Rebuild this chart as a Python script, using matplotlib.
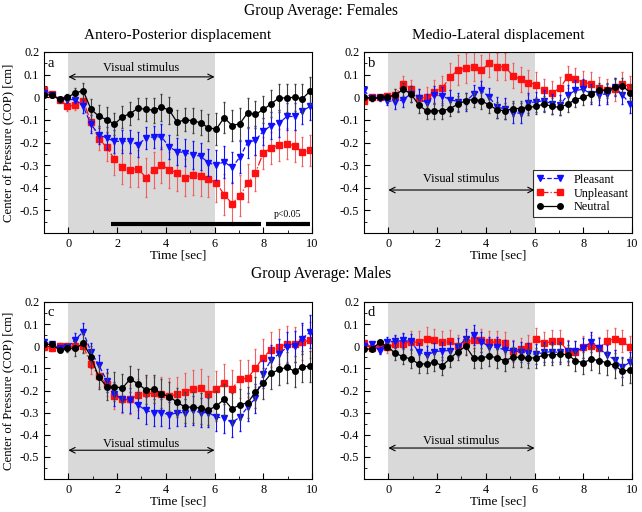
import numpy as np
import matplotlib
matplotlib.use('Agg')
import matplotlib.pyplot as plt
from matplotlib.lines import Line2D
from matplotlib.ticker import MultipleLocator

plt.rcParams['font.family'] = ['Liberation Serif', 'DejaVu Serif']
plt.rcParams['axes.unicode_minus'] = False

# time axis (sec), 35 samples
time = np.linspace(-1.0, 9.93, 35)

# ---- Females, antero-posterior (a) ----
a_pleasant = [0.02, 0.01, -0.01, -0.01, -0.01, -0.04, -0.12, -0.165, -0.18, -0.195, -0.195, -0.195,
              -0.21, -0.18, -0.175, -0.175, -0.22, -0.24, -0.245, -0.255, -0.26, -0.29, -0.30, -0.285,
              -0.31, -0.265, -0.20, -0.19, -0.15, -0.125, -0.115, -0.085, -0.085, -0.06, -0.04]
a_pleasant_err = [0.01, 0.01, 0.01, 0.01, 0.015, 0.03, 0.04, 0.04, 0.05, 0.05, 0.05, 0.05, 0.055,
                  0.05, 0.05, 0.055, 0.055, 0.06, 0.06, 0.06, 0.06, 0.06, 0.065, 0.07, 0.07, 0.07,
                  0.07, 0.065, 0.06, 0.06, 0.06, 0.06, 0.06, 0.06, 0.06]
a_unpleasant = [0.03, 0.015, -0.01, -0.04, -0.035, -0.015, -0.11, -0.185, -0.22, -0.275, -0.31, -0.32,
                -0.315, -0.355, -0.32, -0.30, -0.32, -0.335, -0.355, -0.345, -0.35, -0.36, -0.38, -0.43,
                -0.47, -0.435, -0.38, -0.335, -0.245, -0.225, -0.21, -0.205, -0.215, -0.24, -0.235]
a_unpleasant_err = [0.02, 0.01, 0.01, 0.02, 0.02, 0.025, 0.04, 0.05, 0.06, 0.07, 0.075, 0.075, 0.08,
                    0.085, 0.08, 0.08, 0.08, 0.08, 0.08, 0.085, 0.085, 0.08, 0.085, 0.09, 0.095, 0.09,
                    0.085, 0.08, 0.07, 0.07, 0.07, 0.07, 0.07, 0.065, 0.07]
a_neutral = [0.012, 0.009, -0.009, 0.0, 0.019, 0.029, -0.053, -0.084, -0.099, -0.119, -0.087, -0.072,
             -0.049, -0.053, -0.057, -0.044, -0.057, -0.111, -0.099, -0.104, -0.113, -0.135, -0.141,
             -0.09, -0.125, -0.117, -0.069, -0.076, -0.054, -0.029, -0.003, -0.003, 0.0, -0.006, 0.028]
a_neutral_err = [0.01, 0.01, 0.01, 0.015, 0.02, 0.035, 0.045, 0.05, 0.055, 0.05, 0.05, 0.05, 0.045,
                 0.05, 0.055, 0.06, 0.06, 0.055, 0.05, 0.055, 0.055, 0.06, 0.07, 0.07, 0.07, 0.07,
                 0.065, 0.06, 0.06, 0.06, 0.06, 0.06, 0.06, 0.065, 0.06]

# ---- Females, medio-lateral (b) ----
b_pleasant = [0.03, -0.005, -0.005, -0.015, -0.02, -0.01, 0.015, -0.005, -0.025, 0.01, 0.005, -0.01,
              -0.02, -0.02, 0.015, 0.03, 0.0, -0.045, -0.05, -0.07, -0.07, -0.025, -0.02, -0.015,
              -0.03, -0.035, 0.01, 0.03, 0.035, 0.015, 0.01, 0.015, 0.045, 0.01, -0.03]
b_pleasant_err = [0.01, 0.01, 0.01, 0.02, 0.03, 0.035, 0.035, 0.04, 0.04, 0.04, 0.04, 0.04, 0.04,
                  0.04, 0.04, 0.04, 0.04, 0.045, 0.045, 0.045, 0.045, 0.045, 0.045, 0.045, 0.045,
                  0.045, 0.045, 0.045, 0.045, 0.045, 0.045, 0.045, 0.04, 0.04, 0.04]
b_unpleasant = [-0.015, 0.0, 0.0, 0.005, 0.01, 0.06, 0.035, -0.005, 0.0, 0.025, 0.04, 0.09, 0.12,
                0.13, 0.135, 0.12, 0.15, 0.135, 0.135, 0.095, 0.08, 0.065, 0.055, 0.03, 0.02, 0.04,
                0.09, 0.08, 0.065, 0.06, 0.04, 0.03, 0.035, 0.06, 0.045]
b_unpleasant_err = [0.01, 0.01, 0.01, 0.015, 0.025, 0.035, 0.04, 0.04, 0.045, 0.05, 0.055, 0.06, 0.065,
                    0.065, 0.065, 0.065, 0.06, 0.06, 0.06, 0.055, 0.055, 0.055, 0.055, 0.05, 0.05,
                    0.05, 0.05, 0.05, 0.05, 0.05, 0.05, 0.05, 0.05, 0.05, 0.05]
b_neutral = [0.0, -0.005, 0.0, 0.0, 0.01, 0.035, 0.015, -0.035, -0.06, -0.06, -0.06, -0.05, -0.03,
             -0.015, -0.01, -0.015, -0.035, -0.055, -0.06, -0.05, -0.05, -0.045, -0.04, -0.03,
             -0.04, -0.045, -0.03, -0.01, 0.0, 0.015, 0.03, 0.03, 0.045, 0.05, 0.02]
b_neutral_err = [0.01, 0.01, 0.01, 0.015, 0.025, 0.03, 0.035, 0.035, 0.035, 0.035, 0.035, 0.035,
                 0.035, 0.035, 0.035, 0.035, 0.035, 0.035, 0.035, 0.035, 0.035, 0.035, 0.035, 0.035,
                 0.035, 0.035, 0.035, 0.035, 0.035, 0.035, 0.035, 0.035, 0.035, 0.035, 0.035]

# ---- Males, antero-posterior (c) ----
c_pleasant = [0.02, 0.01, -0.01, -0.005, 0.03, 0.065, -0.025, -0.085, -0.155, -0.215, -0.24, -0.245,
              -0.265, -0.29, -0.30, -0.30, -0.31, -0.30, -0.30, -0.29, -0.30, -0.30, -0.32, -0.325,
              -0.345, -0.32, -0.275, -0.235, -0.125, -0.06, -0.035, -0.005, 0.0, 0.035, 0.065]
c_pleasant_err = [0.01, 0.01, 0.01, 0.015, 0.03, 0.04, 0.04, 0.045, 0.05, 0.055, 0.055, 0.055, 0.06,
                  0.06, 0.06, 0.06, 0.06, 0.06, 0.06, 0.065, 0.065, 0.065, 0.065, 0.065, 0.065,
                  0.065, 0.065, 0.065, 0.065, 0.065, 0.07, 0.07, 0.07, 0.07, 0.075]
c_unpleasant = [-0.005, -0.01, 0.003, 0.0, 0.0, 0.0, -0.08, -0.133, -0.17, -0.225, -0.24, -0.24,
                -0.22, -0.213, -0.213, -0.218, -0.225, -0.218, -0.205, -0.193, -0.19, -0.218, -0.195,
                -0.167, -0.193, -0.148, -0.145, -0.098, -0.051, -0.015, -0.002, 0.01, 0.008, 0.018, 0.028]
c_unpleasant_err = [0.01, 0.01, 0.01, 0.015, 0.02, 0.025, 0.045, 0.05, 0.055, 0.06, 0.06, 0.065, 0.07,
                    0.075, 0.075, 0.08, 0.08, 0.08, 0.085, 0.085, 0.085, 0.085, 0.085, 0.085, 0.085,
                    0.085, 0.085, 0.085, 0.085, 0.08, 0.08, 0.08, 0.08, 0.08, 0.08]
c_neutral = [0.01, 0.008, -0.017, -0.008, -0.01, 0.013, -0.047, -0.14, -0.182, -0.182, -0.19, -0.148,
             -0.17, -0.197, -0.193, -0.215, -0.228, -0.253, -0.275, -0.275, -0.28, -0.288, -0.27,
             -0.24, -0.283, -0.265, -0.255, -0.208, -0.167, -0.123, -0.105, -0.095, -0.113, -0.092, -0.09]
c_neutral_err = [0.01, 0.01, 0.01, 0.02, 0.035, 0.045, 0.05, 0.055, 0.06, 0.065, 0.065, 0.06, 0.065,
                 0.065, 0.065, 0.065, 0.065, 0.065, 0.07, 0.07, 0.07, 0.07, 0.07, 0.07, 0.07, 0.07,
                 0.07, 0.07, 0.07, 0.07, 0.07, 0.07, 0.07, 0.07, 0.07]

# ---- Males, medio-lateral (d) ----
d_pleasant = [0.003, 0.01, -0.02, 0.02, 0.022, 0.026, 0.022, -0.027, -0.04, -0.025, -0.02, -0.02,
              -0.002, 0.033, 0.05, 0.02, -0.002, -0.005, -0.017, -0.02, -0.025, -0.032, -0.037,
              -0.027, -0.025, -0.028, -0.02, -0.02, -0.008, 0.02, -0.008, -0.04, -0.06, -0.095, -0.07]
d_pleasant_err = [0.01, 0.01, 0.015, 0.02, 0.03, 0.035, 0.035, 0.04, 0.04, 0.04, 0.04, 0.04, 0.04,
                  0.045, 0.045, 0.045, 0.045, 0.045, 0.045, 0.045, 0.045, 0.045, 0.045, 0.045,
                  0.045, 0.045, 0.045, 0.045, 0.045, 0.045, 0.045, 0.045, 0.045, 0.045, 0.045]
d_unpleasant = [0.015, -0.008, 0.008, -0.005, 0.01, 0.01, 0.02, 0.018, 0.035, 0.028, 0.017, 0.022,
                0.002, 0.017, 0.028, 0.026, 0.02, 0.017, 0.013, -0.02, -0.013, 0.002, 0.032, 0.013,
                0.022, 0.022, -0.02, -0.028, -0.005, 0.003, -0.01, 0.025, 0.033, 0.022, -0.005]
d_unpleasant_err = [0.015, 0.015, 0.02, 0.025, 0.035, 0.045, 0.05, 0.05, 0.05, 0.05, 0.05, 0.05,
                    0.05, 0.05, 0.05, 0.05, 0.05, 0.05, 0.05, 0.05, 0.05, 0.05, 0.05, 0.05, 0.05,
                    0.05, 0.05, 0.05, 0.05, 0.05, 0.05, 0.05, 0.05, 0.05, 0.05]
d_neutral = [-0.012, -0.013, 0.017, -0.002, -0.032, -0.047, -0.058, -0.08, -0.08, -0.072, -0.088,
             -0.055, -0.024, 0.0, -0.053, -0.053, -0.044, -0.053, -0.065, -0.05, -0.05, -0.053,
             -0.053, -0.038, -0.04, -0.036, -0.038, -0.065, -0.075, -0.058, -0.065, -0.075, -0.087,
             -0.113, -0.107]
d_neutral_err = [0.01, 0.01, 0.01, 0.015, 0.03, 0.035, 0.04, 0.04, 0.04, 0.04, 0.04, 0.04, 0.04,
                 0.04, 0.045, 0.045, 0.045, 0.045, 0.045, 0.045, 0.045, 0.045, 0.045, 0.045, 0.045,
                 0.045, 0.045, 0.045, 0.05, 0.05, 0.055, 0.055, 0.055, 0.06, 0.06]

# significant intervals in panel a (sec)
sig_intervals = [(1.75, 7.9), (8.1, 9.9)]

panels = {
    'a': (a_pleasant, a_pleasant_err, a_unpleasant, a_unpleasant_err, a_neutral, a_neutral_err),
    'b': (b_pleasant, b_pleasant_err, b_unpleasant, b_unpleasant_err, b_neutral, b_neutral_err),
    'c': (c_pleasant, c_pleasant_err, c_unpleasant, c_unpleasant_err, c_neutral, c_neutral_err),
    'd': (d_pleasant, d_pleasant_err, d_unpleasant, d_unpleasant_err, d_neutral, d_neutral_err),
}

fig = plt.figure(figsize=(6.42, 5.12), dpi=100)
W, H = 642, 512
boxes = {'a': (44, 52, 312, 233), 'b': (364, 52, 632, 233),
         'c': (44, 302, 312, 479), 'd': (364, 302, 632, 479)}

blue = '#1010ff'
red = '#ff1010'
red_err = '#f06060'

stim_y = {'a': (0.13, 0.09), 'b': (-0.36, -0.41), 'c': (-0.44, -0.47), 'd': (-0.43, -0.46)}

for key, (x0, y0, x1, y1) in boxes.items():
    ax = fig.add_axes([x0 / W, 1 - y1 / H, (x1 - x0) / W, (y1 - y0) / H])
    pl, ple, un, une, ne, nee = panels[key]
    ax.axvspan(0, 6, color='#d9d9d9', lw=0, zorder=0)

    ax.errorbar(time, un, yerr=une, color=red, ecolor=red_err, ls='-.', lw=0.9, marker='s',
                ms=4, elinewidth=0.8, capsize=1, zorder=2)
    ax.errorbar(time, pl, yerr=ple, color=blue, ecolor=blue, ls='--', lw=0.9, marker='v',
                ms=4.5, elinewidth=0.8, capsize=1, zorder=3)
    ax.errorbar(time, ne, yerr=nee, color='black', ecolor='#404040', ls='-', lw=0.9, marker='o',
                ms=4, elinewidth=0.8, capsize=1, zorder=4)

    ty, ay = stim_y[key]
    ax.text(3, ty, 'Visual stimulus', ha='center', va='center', fontsize=8.8)
    ax.annotate('', xy=(0, ay), xytext=(6, ay),
                arrowprops=dict(arrowstyle='<->', lw=0.8, color='black', shrinkA=0, shrinkB=0))

    ax.text(-0.85, 0.18, key, ha='left', va='top', fontsize=10.5)

    ax.set_xlim(-1, 10)
    ax.set_ylim(-0.6, 0.2)
    ax.set_xticks([0, 2, 4, 6, 8, 10])
    ax.xaxis.set_minor_locator(MultipleLocator(1))
    yt = [0.2, 0.1, 0, -0.1, -0.2, -0.3, -0.4, -0.5]
    ax.set_yticks(yt)
    ax.set_yticklabels(['0.2', '0.1', '0', '-0.1', '-0.2', '-0.3', '-0.4', '-0.5'])
    ax.yaxis.set_minor_locator(MultipleLocator(0.05))
    ax.tick_params(which='both', direction='in', labelsize=8.8, top=False, right=False)
    ax.tick_params(which='major', length=4)
    ax.tick_params(which='minor', length=2)
    ax.set_xlabel('Time [sec]', fontsize=9.5, labelpad=0)
    if key in ('a', 'c'):
        ax.set_ylabel('Center of Pressure (COP) [cm]', fontsize=9.2, labelpad=4)

    if key == 'a':
        for s, e in sig_intervals:
            ax.plot([s, e], [-0.56, -0.56], color='black', lw=3, solid_capstyle='butt', zorder=5)
        ax.text(9.0, -0.52, 'p<0.05', ha='center', va='center', fontsize=7)
        ax.set_title('Antero-Posterior displacement', fontsize=11, pad=9)
    if key == 'b':
        ax.set_title('Medio-Lateral displacement', fontsize=11, pad=9)
        handles = [
            Line2D([], [], color=blue, ls='--', marker='v', ms=4.5, lw=0.9),
            Line2D([], [], color=red, ls='-.', marker='s', ms=4, lw=0.9),
            Line2D([], [], color='black', ls='-', marker='o', ms=4, lw=0.9),
        ]
        leg = ax.legend(handles, ['Pleasant', 'Unpleasant', 'Neutral'], loc='lower right',
                        numpoints=2, fontsize=8.8, frameon=True, fancybox=False,
                        handlelength=2.2, borderpad=0.3, labelspacing=0.15,
                        borderaxespad=0, bbox_to_anchor=(1.0, 0.088))
        leg.get_frame().set_edgecolor('black')
        leg.get_frame().set_linewidth(0.8)

fig.text(0.5, 1 - 11 / H, 'Group Average: Females', ha='center', va='center', fontsize=11.2)
fig.text(0.5, 1 - 274 / H, 'Group Average: Males', ha='center', va='center', fontsize=11.2)

fig.savefig('out.png', dpi=100, facecolor='white')
